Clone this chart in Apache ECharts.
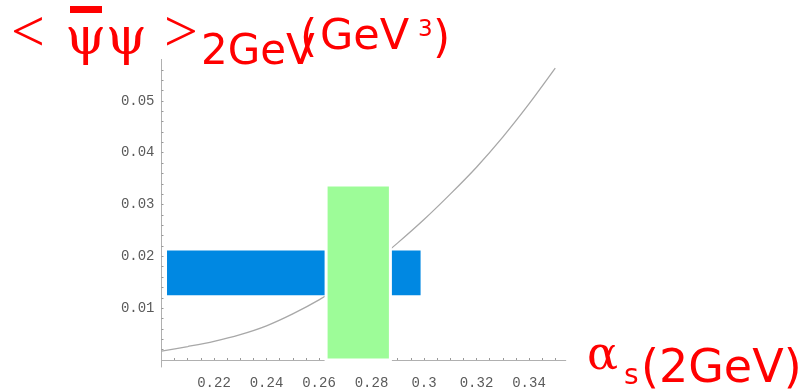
<!DOCTYPE html>
<html><head><meta charset="utf-8">
<script src="https://cdn.jsdelivr.net/npm/echarts@6/dist/echarts.min.js"></script>
<style>html,body{margin:0;padding:0;background:#fff}#c{width:810px;height:390px}</style>
</head><body><div id="c"></div>
<script>
// alpha_s(2GeV) sample points and condensate curve (GeV^3)
const alphaS = [0.20, 0.21, 0.22, 0.23, 0.24, 0.25, 0.26, 0.27, 0.28, 0.29, 0.30, 0.31, 0.32, 0.33, 0.34, 0.35];
const condensate = [0.0017, 0.0026, 0.0036, 0.0049, 0.0066, 0.0089, 0.0116, 0.0148, 0.0184, 0.0226, 0.0271, 0.0320, 0.0372, 0.0430, 0.0494, 0.0563];
// bands: [xFrom, xTo, yFrom, yTo]
const blueBand = [0.2021, 0.2987, 0.0125, 0.02115];
const greenBand = [0.2627, 0.2872, 0, 0.03375];
// tick labels and tick marks
const xLabelValues = [0.22, 0.24, 0.26, 0.28, 0.30, 0.32, 0.34];
const xTickValues = [0.205, 0.21, 0.215, 0.22, 0.225, 0.23, 0.235, 0.24, 0.245, 0.25, 0.255, 0.26, 0.265, 0.27, 0.275, 0.28, 0.285, 0.29, 0.295, 0.30, 0.305, 0.31, 0.315, 0.32, 0.325, 0.33, 0.335, 0.34, 0.345, 0.35];
const yLabelValues = [0.01, 0.02, 0.03, 0.04, 0.05];
const yTickValues = [0.002, 0.004, 0.006, 0.008, 0.01, 0.012, 0.014, 0.016, 0.018, 0.02, 0.022, 0.024, 0.026, 0.028, 0.03, 0.032, 0.034, 0.036, 0.038, 0.04, 0.042, 0.044, 0.046, 0.048, 0.05, 0.052, 0.054, 0.056];

const RED = '#ff0000';
const COMIC = '"DejaVu Sans", sans-serif';
const chart = echarts.init(document.getElementById('c'), null, {renderer: 'canvas'});

function rectRenderer(fill, stroke, lw) {
  return function (params, api) {
    const p0 = api.coord([api.value(0), api.value(3)]);
    const p1 = api.coord([api.value(1), api.value(2)]);
    return {
      type: 'rect',
      shape: {x: p0[0], y: p0[1], width: p1[0] - p0[0], height: p1[1] - p0[1]},
      style: {fill: fill, stroke: stroke, lineWidth: lw}
    };
  };
}

const labelStyle = {color: '#5a5a5a', fontFamily: '"Liberation Mono", monospace', fontSize: 14};

chart.setOption({
  animation: false,
  backgroundColor: '#ffffff',
  grid: {left: 161.5, right: 244.25, top: 59.4, bottom: 22, containLabel: false},
  xAxis: {
    type: 'value', min: 0.2, max: 0.354,
    axisLine: {show: true, onZero: true, lineStyle: {color: '#b0b0b0', width: 1}},
    axisTick: {show: true, inside: true, length: 2, customValues: xTickValues, lineStyle: {color: '#999'}},
    axisLabel: Object.assign({customValues: xLabelValues, margin: 9, formatter: v => String(+v.toFixed(2))}, labelStyle),
    splitLine: {show: false}
  },
  yAxis: {
    type: 'value', min: -0.00135, max: 0.058,
    axisLine: {show: true, onZero: false, lineStyle: {color: '#b0b0b0', width: 1}},
    axisTick: {show: true, inside: true, length: 2, customValues: yTickValues, lineStyle: {color: '#999'}},
    axisLabel: Object.assign({customValues: yLabelValues, margin: 7, formatter: v => (+v).toFixed(2)}, labelStyle),
    splitLine: {show: false}
  },
  series: [
    {
      type: 'line', z: 2,
      data: alphaS.map((a, i) => [a, condensate[i]]),
      smooth: 0.3, showSymbol: false, symbol: 'none',
      lineStyle: {color: '#a8a8a8', width: 1.3}
    },
    {
      type: 'custom', z: 3, clip: false,
      encode: {x: [0, 1], y: [2, 3]},
      renderItem: rectRenderer('#0088e2', null, 0),
      data: [blueBand]
    },
    {
      type: 'custom', z: 4, clip: false,
      encode: {x: [0, 1], y: [2, 3]},
      renderItem: rectRenderer('#9dfc98', '#ffffff', 3),
      data: [greenBand]
    }
  ],
  graphic: [
    {type: 'text', z: 10, style: {text: '<', x: 28, y: 35, align: 'center', verticalAlign: 'middle', font: 'normal 60px "Liberation Serif", serif', fill: RED}},
    {type: 'text', z: 10, style: {text: 'ψψ', x: 106, y: 40, align: 'center', verticalAlign: 'middle', font: 'normal 52px "DejaVu Serif", serif', fill: RED}},
    {type: 'rect', z: 10, shape: {x: 70, y: 6, width: 32, height: 7}, style: {fill: RED}},
    {type: 'text', z: 10, style: {text: '>', x: 181, y: 35, align: 'center', verticalAlign: 'middle', font: 'normal 60px "Liberation Serif", serif', fill: RED}},
    {type: 'text', z: 10, style: {text: '2GeV', x: 201, y: 74, align: 'left', verticalAlign: 'bottom', font: 'normal 42px ' + COMIC, fill: RED}},
    {type: 'text', z: 10, style: {text: '(', x: 300, y: 62, align: 'left', verticalAlign: 'bottom', font: 'normal 44px ' + COMIC, fill: RED}},
    {type: 'text', z: 10, style: {text: 'GeV', x: 320, y: 59, align: 'left', verticalAlign: 'bottom', font: 'normal 43px ' + COMIC, fill: RED}},
    {type: 'text', z: 10, style: {text: '3', x: 418, y: 42, align: 'left', verticalAlign: 'bottom', font: 'normal 23px ' + COMIC, fill: RED}},
    {type: 'text', z: 10, style: {text: ')', x: 433, y: 63, align: 'left', verticalAlign: 'bottom', font: 'normal 44px ' + COMIC, fill: RED}},
    {type: 'text', z: 10, style: {text: 'α', x: 587, y: 380, align: 'left', verticalAlign: 'bottom', font: 'normal 46px "DejaVu Serif", serif', fill: RED}},
    {type: 'text', z: 10, style: {text: 's', x: 624, y: 391, align: 'left', verticalAlign: 'bottom', font: 'normal 28px ' + COMIC, fill: RED}},
    {type: 'text', z: 10, style: {text: '(2GeV)', x: 641, y: 393, align: 'left', verticalAlign: 'bottom', font: 'normal 46px ' + COMIC, fill: RED}}
  ]
});
</script></body></html>
